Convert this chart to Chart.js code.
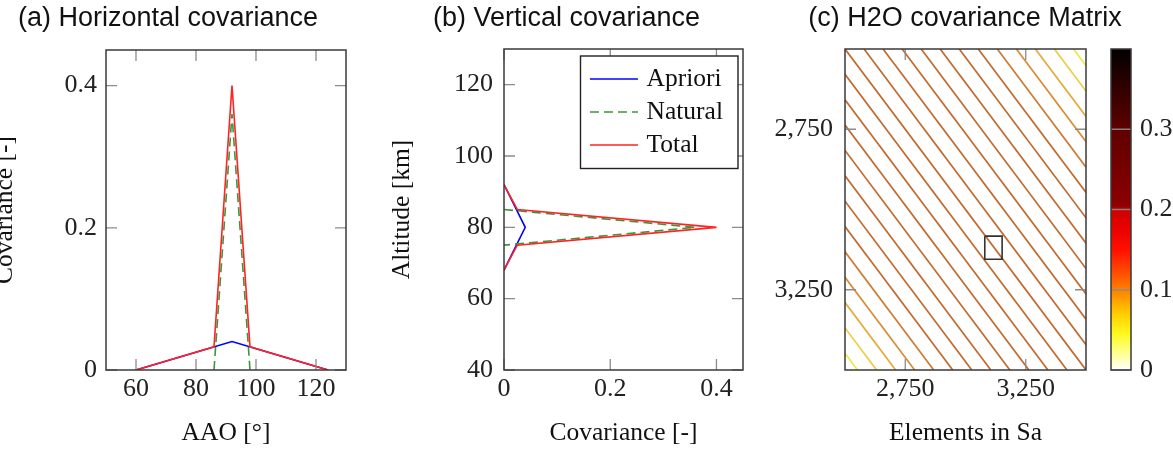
<!DOCTYPE html>
<html><head><meta charset="utf-8">
<script src="https://cdn.jsdelivr.net/npm/chart.js@4.4.1/dist/chart.umd.min.js"></script>
<style>
html,body{margin:0;padding:0;background:#fff;width:1173px;height:453px;overflow:hidden;position:relative}
canvas{position:absolute;top:0}
</style></head><body>
<canvas id="ca" width="358" height="453" style="left:-10px"></canvas>
<canvas id="cb" width="355" height="453" style="left:390px"></canvas>
<canvas id="cc" width="410" height="453" style="left:760px"></canvas>
<canvas id="cd" width="73" height="453" style="left:1100px"></canvas>
<script>
// ---------------- DATA ----------------
const seriesNames = ['Apriori', 'Natural', 'Total'];

// (a) Horizontal covariance
const aaoApriori = [60, 92, 124];
const covApriori = [0, 0.04, 0];
const aaoNatural = [86, 92, 98];
const covNatural = [0, 0.36, 0];
const aaoTotal = [60, 86, 92, 98, 124];
const covTotal = [0, 0.0325, 0.4, 0.0325, 0];

// (b) Vertical covariance
const altApriori = [92, 80, 68];
const vcovApriori = [0, 0.04, 0];
const altNatural = [85, 80, 75];
const vcovNatural = [0, 0.36, 0];
const altTotal = [92, 85, 80, 75, 68];
const vcovTotal = [0, 0.025, 0.4, 0.025, 0];

// tick values
const aaoTicks = [60, 80, 100, 120];
const covTicks = [0, 0.2, 0.4];
const altTicks = [40, 60, 80, 100, 120];
const elemTicks = [2750, 3250];
const elemTickLabels = ['2,750', '3,250'];
const cbarTicks = [0, 0.1, 0.2, 0.3];

// (c) H2O covariance matrix: element window, stripe offsets (col - row) and values
const elemRange = [2500, 3500];
const stripeOffsets = [-948, -869, -790, -711, -632, -553, -474, -395, -316, -237, -158, -79, 0,
                       79, 158, 237, 316, 395, 474, 553, 632, 711, 790, 869, 948];
const stripeValues = [0.04, 0.06, 0.08, 0.10, 0.11, 0.12, 0.12, 0.12, 0.12, 0.12, 0.12, 0.12, 0.12,
                      0.12, 0.12, 0.12, 0.12, 0.12, 0.12, 0.12, 0.11, 0.10, 0.08, 0.06, 0.04];
const boxCols = [3080, 3152];
const boxRows = [3083, 3155];
const cbarRange = [0, 0.4];

// ---------------- STYLE ----------------
const serif = "'Liberation Serif', 'Times New Roman', serif";
const sans = "'Liberation Sans', Arial, sans-serif";
const tickFont = {family: serif, size: 26, lineHeight: 1};
const axisFont = {family: serif, size: 25.5, lineHeight: 1};
const headFont = {family: sans, size: 27, lineHeight: 1, weight: 'normal'};
const colBlue = '#0000ff', colGreen = 'rgb(60,150,60)', colRed = 'rgb(255,35,35)';
Chart.defaults.color = '#1a1a1a';
Chart.defaults.animation = false;
Chart.defaults.events = [];

// colour map for the colour bar
const cmap = [[0, [255,255,255]], [0.02, [255,255,150]], [0.045, [255,250,30]], [0.07, [255,205,0]],
  [0.095, [255,140,0]], [0.12, [255,80,0]], [0.15, [255,15,0]], [0.18, [230,0,0]], [0.198, [205,0,0]],
  [0.205, [140,0,0]], [0.3, [95,0,0]], [0.35, [50,0,0]], [0.4, [0,0,0]]];
// rendered stripe appearance (thin lines blended with white)
const stripeLook = [[0.04, [240,232,70]], [0.06, [238,204,62]], [0.08, [230,170,55]],
  [0.10, [218,140,52]], [0.11, [206,122,50]], [0.12, [194,106,46]]];
function interp(stops, v) {
  if (v <= stops[0][0]) return stops[0][1];
  for (let i = 1; i < stops.length; i++) {
    if (v <= stops[i][0]) {
      const [v0, c0] = stops[i-1], [v1, c1] = stops[i];
      const t = (v - v0) / (v1 - v0);
      return c0.map((c, k) => Math.round(c + t * (c1[k] - c)));
    }
  }
  return stops[stops.length-1][1];
}
const rgb = c => `rgb(${c[0]},${c[1]},${c[2]})`;
const xy = (xs, ys) => xs.map((x, i) => ({x, y: ys[i]}));
const setTicks = vals => s => { s.ticks = vals.map(v => ({value: v})); };

// inward tick marks + frame
const frameTicks = {
  id: 'frameTicks',
  afterDatasetsDraw(chart, args, o) {
    const {ctx, chartArea: a} = chart;
    const L = o.len || 11;
    ctx.save();
    ctx.strokeStyle = o.tickColor || '#8c8c8c'; ctx.lineWidth = 1.3;
    ctx.beginPath();
    const xs = chart.scales.x, ys = chart.scales.y;
    if (xs && xs.options.display !== false) xs.ticks.forEach(t => {
      const p = xs.getPixelForValue(t.value);
      ctx.moveTo(p, a.bottom); ctx.lineTo(p, a.bottom - L);
      ctx.moveTo(p, a.top); ctx.lineTo(p, a.top + L);
    });
    if (ys) ys.ticks.forEach(t => {
      const p = ys.getPixelForValue(t.value);
      ctx.moveTo(a.left, p); ctx.lineTo(a.left + L, p);
      ctx.moveTo(a.right, p); ctx.lineTo(a.right - L, p);
    });
    ctx.stroke();
    ctx.strokeStyle = '#3a3a3a'; ctx.lineWidth = 1.5;
    ctx.strokeRect(a.left, a.top, a.right - a.left, a.bottom - a.top);
    ctx.restore();
  }
};

// boxed legend inside the plot
const boxLegend = {
  id: 'boxLegend',
  afterDraw(chart) {
    const {ctx, chartArea: a} = chart;
    const w = 157.5, h = 112.5;
    const left = a.right - 5 - w, top = a.top + 7;
    ctx.save();
    ctx.fillStyle = '#fff'; ctx.fillRect(left, top, w, h);
    ctx.strokeStyle = '#222'; ctx.lineWidth = 1.4; ctx.strokeRect(left, top, w, h);
    chart.data.datasets.forEach((d, i) => {
      const y = top + 23 + i * 33;
      ctx.beginPath(); ctx.setLineDash(d.borderDash || []);
      ctx.strokeStyle = d.borderColor; ctx.lineWidth = d.borderWidth;
      ctx.moveTo(left + 9.5, y); ctx.lineTo(left + 57.5, y); ctx.stroke();
      ctx.setLineDash([]);
      ctx.fillStyle = '#111'; ctx.font = `25.5px ${serif}`;
      ctx.textBaseline = 'middle'; ctx.textAlign = 'left';
      ctx.fillText(d.label, left + 66, y);
    });
    ctx.restore();
  }
};

function lineDs(label, data, color, order, dash) {
  return {label, data, showLine: true, borderColor: color, backgroundColor: color, borderWidth: 1.6,
          pointRadius: 0, tension: 0, fill: false, order, borderDash: dash || []};
}
function axis(o) {
  return Object.assign({
    type: 'linear',
    grid: {display: false, drawTicks: false},
    border: {display: false},
    ticks: {font: tickFont, color: '#222', maxRotation: 0, autoSkip: false, callback: v => String(v)},
  }, o);
}

// ---------------- (a) ----------------
new Chart(document.getElementById('ca'), {
  type: 'scatter',
  data: {datasets: [
    lineDs(seriesNames[0], xy(aaoApriori, covApriori), colBlue, 2),
    lineDs(seriesNames[1], xy(aaoNatural, covNatural), colGreen, 1, [9, 5]),
    lineDs(seriesNames[2], xy(aaoTotal, covTotal), colRed, 0),
  ]},
  plugins: [frameTicks],
  options: {
    responsive: false,
    layout: {padding: {left: 0, right: 2, top: 0, bottom: 0}},
    plugins: {legend: {display: false}, tooltip: {enabled: false},
      title: {display: true, text: '(a) Horizontal covariance', font: headFont, color: '#111', padding: {top: 5, bottom: 18}},
      frameTicks: {}},
    scales: {
      x: axis({min: 50, max: 130, afterBuildTicks: setTicks(aaoTicks), afterFit: s => { s.height = 83; },
        ticks: Object.assign({}, axis({}).ticks, {padding: 6}),
        title: {display: true, text: 'AAO [°]', font: axisFont, color: '#111', padding: {top: 0, bottom: 7}}}),
      y: axis({min: 0, max: 0.45, afterBuildTicks: setTicks(covTicks), afterFit: s => { s.width = 116; },
        ticks: Object.assign({}, axis({}).ticks, {padding: 9}),
        title: {display: true, text: 'Covariance [-]', font: axisFont, color: '#111', padding: {top: 2.25, bottom: 0}}}),
    }
  }
});

// ---------------- (b) ----------------
new Chart(document.getElementById('cb'), {
  type: 'scatter',
  data: {datasets: [
    lineDs(seriesNames[0], xy(vcovApriori, altApriori), colBlue, 2),
    lineDs(seriesNames[1], xy(vcovNatural, altNatural), colGreen, 1, [9, 5]),
    lineDs(seriesNames[2], xy(vcovTotal, altTotal), colRed, 0),
  ]},
  plugins: [frameTicks, boxLegend],
  options: {
    responsive: false,
    layout: {padding: {left: 0, right: 2, top: 0, bottom: 0}},
    plugins: {legend: {display: false}, tooltip: {enabled: false},
      title: {display: true, text: '(b) Vertical covariance', font: headFont, color: '#111', padding: {top: 5, bottom: 17}},
      frameTicks: {}},
    scales: {
      x: axis({min: 0, max: 0.45, afterBuildTicks: setTicks(covTicks), afterFit: s => { s.height = 83; },
        ticks: Object.assign({}, axis({}).ticks, {padding: 6}),
        title: {display: true, text: 'Covariance [-]', font: axisFont, color: '#111', padding: {top: 0, bottom: 7}}}),
      y: axis({min: 40, max: 130, afterBuildTicks: setTicks(altTicks), afterFit: s => { s.width = 114; },
        ticks: Object.assign({}, axis({}).ticks, {padding: 11}),
        title: {display: true, text: 'Altitude [km]', font: axisFont, color: '#111', padding: {top: 0, bottom: 0}}}),
    }
  }
});

// ---------------- (c) ----------------
const stripeSets = stripeOffsets.map((c, i) => {
  const x0 = Math.max(elemRange[0], elemRange[0] + c);
  const x1 = Math.min(elemRange[1], elemRange[1] + c);
  return {data: [{x: x0, y: x0 - c}, {x: x1, y: x1 - c}], showLine: true, pointRadius: 0,
          borderColor: rgb(interp(stripeLook, stripeValues[i])), borderWidth: 1.7, fill: false, order: 1};
});
const boxSet = {data: xy([boxCols[0], boxCols[1], boxCols[1], boxCols[0], boxCols[0]],
                         [boxRows[0], boxRows[0], boxRows[1], boxRows[1], boxRows[0]]),
                 showLine: true, pointRadius: 0, borderColor: '#333', borderWidth: 1.6, fill: false, order: 0};
new Chart(document.getElementById('cc'), {
  type: 'scatter',
  data: {datasets: stripeSets.concat([boxSet])},
  plugins: [frameTicks],
  options: {
    responsive: false,
    layout: {padding: {left: 0, right: 0, top: 0, bottom: 0}},
    plugins: {legend: {display: false}, tooltip: {enabled: false},
      title: {display: true, text: '(c) H2O covariance Matrix', font: headFont, color: '#111', padding: {top: 5, bottom: 17}},
      frameTicks: {}},
    scales: {
      x: axis({min: elemRange[0], max: elemRange[1], afterBuildTicks: setTicks(elemTicks), afterFit: s => { s.height = 83; },
        ticks: Object.assign({}, axis({}).ticks, {padding: 6, callback: (v) => elemTickLabels[elemTicks.indexOf(v)]}),
        title: {display: true, text: 'Elements in Sa', font: axisFont, color: '#111', padding: {top: 0, bottom: 7}}}),
      y: axis({min: elemRange[0], max: elemRange[1], reverse: true, afterBuildTicks: setTicks(elemTicks), afterFit: s => { s.width = 85; },
        ticks: Object.assign({}, axis({}).ticks, {padding: 12, callback: (v) => elemTickLabels[elemTicks.indexOf(v)]})}),
      // spacer on the right (room for the colour bar), draws nothing
      yspace: {type: 'linear', position: 'right', min: 0, max: 1, grid: {display: false, drawTicks: false},
        border: {display: false}, ticks: {display: false}, afterFit: s => { s.width = 84; }},
    }
  }
});

// ---------------- colour bar ----------------
const gradientFill = {
  id: 'gradientFill',
  beforeDatasetsDraw(chart) {
    const {ctx, chartArea: a, scales: {y}} = chart;
    const y0 = y.getPixelForValue(cbarRange[0]), y1 = y.getPixelForValue(cbarRange[1]);
    const g = ctx.createLinearGradient(0, y0, 0, y1);
    cmap.forEach(([v, c]) => g.addColorStop((v - cbarRange[0]) / (cbarRange[1] - cbarRange[0]), rgb(c)));
    ctx.save(); ctx.fillStyle = g; ctx.fillRect(a.left, a.top, a.right - a.left, a.bottom - a.top); ctx.restore();
  }
};
new Chart(document.getElementById('cd'), {
  type: 'scatter',
  data: {datasets: []},
  plugins: [gradientFill, frameTicks],
  options: {
    responsive: false,
    layout: {padding: {left: 11, right: 0, top: 49, bottom: 83}},
    plugins: {legend: {display: false}, tooltip: {enabled: false}, frameTicks: {len: 20, tickColor: 'rgba(140,140,140,0.9)'}},
    scales: {
      x: {type: 'linear', display: false, min: 0, max: 1},
      y: axis({position: 'right', min: cbarRange[0], max: cbarRange[1], afterBuildTicks: setTicks(cbarTicks), afterFit: s => { s.width = 42; },
        ticks: Object.assign({}, axis({}).ticks, {padding: 9})}),
    }
  }
});
</script>
</body></html>
